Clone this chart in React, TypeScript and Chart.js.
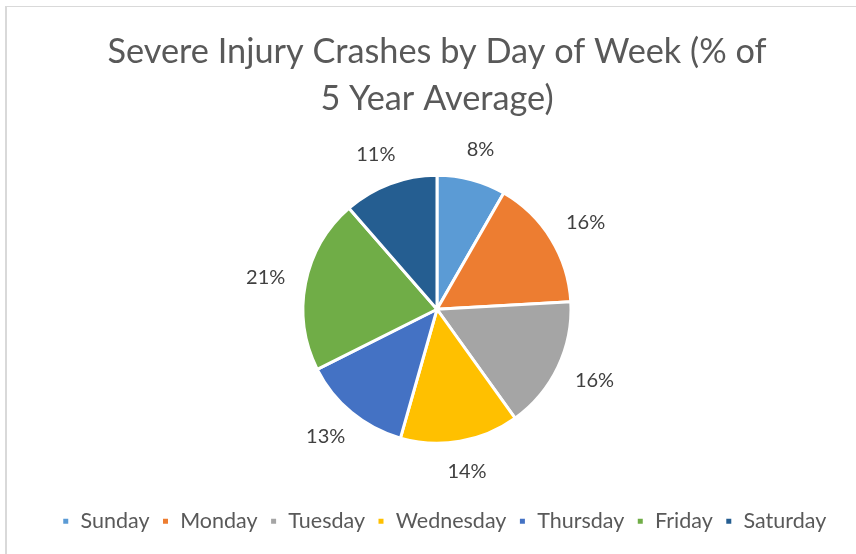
import React, { useEffect, useRef } from "react";
import { Chart, registerables } from "chart.js";

Chart.register(...registerables);

const titleLines = ["Severe Injury Crashes by Day of Week (% of", "5 Year Average)"];
const days = ["Sunday", "Monday", "Tuesday", "Wednesday", "Thursday", "Friday", "Saturday"];
const shares = [8.3, 15.8, 16.0, 14.3, 13.2, 21.0, 11.4];
const colors = ["#5B9BD5", "#ED7D31", "#A5A5A5", "#FFC000", "#4472C4", "#70AD47", "#255E91"];

const FONT = "Lato, 'Open Sans', sans-serif";

const outsideLabels = {
  id: "outsideLabels",
  afterDatasetsDraw(chart: any) {
    const ctx = chart.ctx;
    const meta = chart.getDatasetMeta(0);
    const data = chart.data.datasets[0].data as number[];
    const total = data.reduce((a, b) => a + b, 0);
    ctx.save();
    ctx.font = `20px ${FONT}`;
    ctx.fillStyle = "#404040";
    ctx.textAlign = "center";
    ctx.textBaseline = "middle";
    meta.data.forEach((arc: any, i: number) => {
      const { x, y, startAngle, endAngle, outerRadius } = arc.getProps(
        ["x", "y", "startAngle", "endAngle", "outerRadius"],
        true
      );
      const mid = (startAngle + endAngle) / 2;
      const text = Math.round((data[i] / total) * 100) + "%";
      const w = ctx.measureText(text).width;
      const h = 20;
      const R = outerRadius + 21;
      const c = Math.cos(mid);
      const s = Math.sin(mid);
      const tx = x + c * R + (c * w) / 2;
      const ty = y + s * R + (s * h) / 2;
      ctx.fillText(text, tx, ty);
    });
    ctx.restore();
  },
};

const shiftLegend = {
  id: "shiftLegend",
  afterLayout(chart: any) {
    if (chart.legend) {
      chart.legend.left += 7;
      chart.legend.right += 7;
    }
  },
};

export default function App() {
  const ref = useRef<HTMLCanvasElement | null>(null);
  useEffect(() => {
    if (!ref.current) return;
    const chart = new Chart(ref.current, {
      type: "pie",
      data: {
        labels: days,
        datasets: [
          {
            data: shares,
            backgroundColor: colors,
            borderColor: "#ffffff",
            borderWidth: 3,
          },
        ],
      },
      options: {
        animation: false,
        responsive: false,
        radius: 134,
        layout: { padding: { left: 18, right: 0, top: 0, bottom: 12 } },
        plugins: {
          tooltip: { enabled: false },
          title: {
            display: true,
            text: titleLines,
            color: "#595959",
            font: { family: FONT, size: 34.3, weight: "normal", lineHeight: "47px" },
            padding: { top: 28, bottom: -2 },
          },
          legend: {
            position: "bottom",
            labels: {
              color: "#595959",
              font: { family: FONT, size: 21.5 },
              boxWidth: 8,
              boxHeight: 8,
              padding: 12,
            },
          },
        },
      } as any,
      plugins: [outsideLabels, shiftLegend],
    });
    return () => chart.destroy();
  }, []);
  return (
    <div style={{ position: "fixed", left: 0, top: 0, width: 856, height: 554, background: "#fff", overflow: "hidden" }}>
      <div
        style={{
          position: "absolute",
          left: 5,
          top: 6,
          width: 900,
          height: 600,
          borderLeft: "2px solid #d9d9d9",
          borderTop: "1px solid #d9d9d9",
        }}
      />
      <canvas ref={ref} width={856} height={554} style={{ position: "absolute", left: 0, top: 0 }} />
    </div>
  );
}
